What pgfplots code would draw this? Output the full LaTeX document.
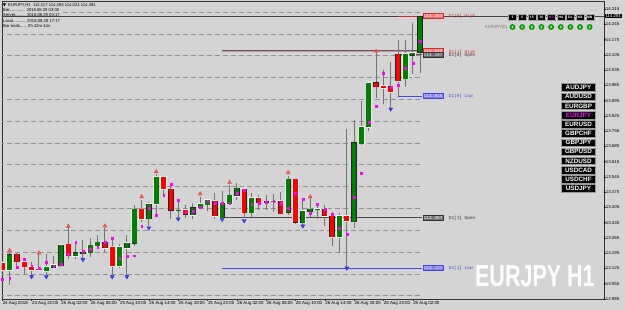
\documentclass[border=0pt]{standalone}
\usepackage{fontspec}
\setmainfont{Liberation Sans}
\newfontfamily\monofont{Liberation Mono}
\usepackage{pgfplots}
\usepackage{pgfplotstable}
\pgfplotsset{compat=1.18}
\definecolor{bg}{RGB}{212,212,212}
\definecolor{cgreen}{RGB}{0,128,0}
\definecolor{cred}{RGB}{255,0,0}
\definecolor{wick}{RGB}{115,115,115}
\definecolor{lvl}{RGB}{145,145,145}
\definecolor{magdot}{RGB}{255,0,255}
\definecolor{dblue}{RGB}{70,70,235}
\definecolor{dred}{RGB}{205,45,45}
\definecolor{teal1}{RGB}{100,195,205}
\definecolor{tfgreen}{RGB}{0,150,0}
\definecolor{halo}{RGB}{240,240,240}

\pgfplotstableread{
i o h l c
1 113.118 113.198 113.052 113.190
6 113.114 113.192 113.095 113.133
7 113.131 113.185 113.127 113.141
8 113.139 113.235 113.134 113.233
10 113.183 113.253 113.169 113.197
11 113.195 113.256 113.166 113.198
12 113.198 113.265 113.178 113.231
13 113.229 113.279 113.217 113.245
16 113.138 113.237 113.127 113.225
17 113.218 113.279 113.093 113.241
18 113.241 113.416 113.227 113.396
20 113.354 113.432 113.320 113.421
21 113.422 113.558 113.370 113.546
24 113.392 113.437 113.359 113.393
26 113.370 113.425 113.354 113.405
27 113.405 113.455 113.396 113.421
28 113.419 113.445 113.391 113.439
30 113.357 113.480 113.352 113.427
31 113.423 113.510 113.416 113.462
32 113.459 113.516 113.441 113.493
34 113.382 113.471 113.363 113.448
36 113.431 113.462 113.393 113.432
37 113.434 113.469 113.385 113.435
39 113.383 113.552 113.370 113.535
41 113.336 113.444 113.327 113.389
42 113.386 113.451 113.363 113.397
43 113.397 113.421 113.351 113.398
46 113.271 113.378 113.195 113.366
48 113.340 113.806 113.311 113.702
49 113.699 113.893 113.691 113.775
50 113.775 113.982 113.758 113.977
55 113.997 114.173 113.956 114.109
56 114.103 114.252 114.017 114.115
57 114.117 114.283 114.021 114.281
}\upc

\pgfplotstableread{
i o h l c
0 113.150 113.159 113.109 113.118
2 113.190 113.196 113.132 113.156
3 113.155 113.173 113.102 113.133
4 113.132 113.153 113.086 113.118
5 113.125 113.192 113.114 113.120
9 113.235 113.315 113.169 113.184
14 113.247 113.311 113.201 113.220
15 113.224 113.271 113.095 113.138
19 113.396 113.441 113.338 113.353
22 113.545 113.552 113.464 113.490
23 113.489 113.513 113.352 113.393
25 113.393 113.419 113.357 113.374
29 113.436 113.471 113.355 113.366
33 113.490 113.492 113.357 113.383
35 113.448 113.462 113.396 113.428
38 113.436 113.476 113.375 113.378
40 113.535 113.538 113.331 113.337
44 113.398 113.419 113.320 113.367
45 113.366 113.385 113.228 113.271
47 113.366 113.765 113.127 113.343
51 113.977 114.122 113.910 113.959
52 113.962 114.035 113.879 113.953
53 113.959 114.073 113.861 113.936
54 114.107 114.173 113.915 113.986
}\dnc

\pgfplotsset{
  ebar/.style 2 args={only marks, mark=*, mark size=0pt, mark options={draw=none, fill=none}, forget plot,
    error bars/.cd, y dir=both, y explicit, error mark=none,
    error bar style={draw=#1, line width=#2}},
  lvlst/.style={lvl, line width=0.8pt, dash pattern=on 5pt off 3pt, forget plot},
}
\tikzset{
  pbox/.style={anchor=west, font=\monofont\fontsize{4.5}{5}\selectfont, inner xsep=0.8pt, inner ysep=0.4pt, minimum height=5pt, text=white, line width=0.5pt},
  d1t/.style={anchor=west, font=\monofont\fontsize{4.4}{5}\selectfont, inner sep=0pt},
  info/.style={anchor=west, font=\fontsize{4.2}{5}\selectfont, inner sep=0pt, text=black},
}

\begin{document}
\begin{tikzpicture}
\useasboundingbox (0,0) rectangle (625pt,310pt);
\fill[bg] (0,0) rectangle (625pt,310pt);
\begin{axis}[
  at={(2pt,11pt)}, anchor=south west,
  scale only axis, width=602pt, height=298pt,
  xmin=-0.041, xmax=82.09, ymin=112.985, ymax=114.3517,
  axis line style={draw=black!80, line width=0.6pt},
  xtick={0,4,8,12,16,20,24,28,32,36,40,44,48,52,56},
  xticklabels={24 Aug 2018,24 Aug 22:00,25 Aug 02:00,25 Aug 06:00,25 Aug 10:00,25 Aug 14:00,25 Aug 18:00,25 Aug 22:00,26 Aug 02:00,26 Aug 06:00,26 Aug 10:00,26 Aug 14:00,26 Aug 18:00,26 Aug 22:00,29 Aug 02:00},
  ytick={112.985,113.055,113.125,113.195,113.265,113.335,113.405,113.475,113.545,113.615,113.685,113.755,113.825,113.895,113.965,114.035,114.105,114.175,114.245,114.315},
  yticklabels={112.985,113.055,113.125,113.195,113.265,113.335,113.405,113.475,113.545,113.615,113.685,113.755,113.825,113.895,113.965,114.035,114.105,114.175,114.245,114.315},
  xtick pos=left, ytick pos=right, yticklabel pos=right,
  tick align=outside, major tick length=2pt,
  tick style={draw=black!80, line width=0.5pt},
  xticklabel style={anchor=north west, inner sep=0pt, xshift=0.3pt, yshift=-0.5pt},
  yticklabel style={anchor=west, inner sep=0pt, xshift=-2.5pt},
  every tick label/.append style={font=\fontsize{4.4}{5}\selectfont, text=black},
]
% round-number levels
\addplot[lvlst] coordinates {(8.3,114.3) (57.3,114.3)};
\pgfplotsinvokeforeach{113.0,113.1,113.2,113.3,113.4,113.5,113.6,113.7,113.8,113.9,114.0,114.1,114.2}{
  \addplot[lvlst] coordinates {(-0.5,#1) (57.3,#1)};
}
% bid line
\addplot[black!75, line width=0.5pt, forget plot] coordinates {(-0.5,114.281) (83,114.281)};
% D1 levels
\addplot[dred, line width=0.8pt] coordinates {(54,114.283) (57.3,114.283)};
\addplot[teal1, line width=0.8pt] coordinates {(30,114.119) (57.3,114.119)};
\addplot[dred, line width=0.8pt] coordinates {(30,114.124) (57.3,114.124)};
\addplot[black!70, line width=0.8pt] coordinates {(54,114.107) (57.3,114.107)};
\addplot[dblue, line width=0.8pt] coordinates {(54,113.915) (57.3,113.915)};
\addplot[black!70, line width=0.8pt] coordinates {(30,113.357) (57.3,113.357)};
\addplot[dblue, line width=0.8pt] coordinates {(30,113.127) (57.3,113.127)};
% wicks
\addplot[ebar={wick}{1pt}] table[x=i, y expr={(\thisrow{h}+\thisrow{l})/2}, y error expr={(\thisrow{h}-\thisrow{l})/2}] {\upc};
\addplot[ebar={wick}{1pt}] table[x=i, y expr={(\thisrow{h}+\thisrow{l})/2}, y error expr={(\thisrow{h}-\thisrow{l})/2}] {\dnc};
% halos
\addplot[ebar={halo}{6.4pt}] table[x=i, y expr={(\thisrow{o}+\thisrow{c})/2}, y error expr={abs(\thisrow{c}-\thisrow{o})/2+0.0035}] {\upc};
\addplot[ebar={halo}{6.4pt}] table[x=i, y expr={(\thisrow{o}+\thisrow{c})/2}, y error expr={abs(\thisrow{c}-\thisrow{o})/2+0.0035}] {\dnc};
% body outlines
\addplot[ebar={black!85}{5.3pt}] table[x=i, y expr={(\thisrow{o}+\thisrow{c})/2}, y error expr={abs(\thisrow{c}-\thisrow{o})/2+0.0013}] {\upc};
\addplot[ebar={black!85}{5.3pt}] table[x=i, y expr={(\thisrow{o}+\thisrow{c})/2}, y error expr={abs(\thisrow{c}-\thisrow{o})/2+0.0013}] {\dnc};
% body fills
\addplot[ebar={cgreen}{4.6pt}] table[x=i, y expr={(\thisrow{o}+\thisrow{c})/2}, y error expr={abs(\thisrow{c}-\thisrow{o})/2}] {\upc};
\addplot[ebar={cred}{4.6pt}] table[x=i, y expr={(\thisrow{o}+\thisrow{c})/2}, y error expr={abs(\thisrow{c}-\thisrow{o})/2}] {\dnc};
% fractal arrows
\addplot[only marks, mark=triangle*, mark size=2.3pt, mark options={fill={rgb,255:red,255;green,90;blue,90}, draw={rgb,255:red,230;green,60;blue,60}, line width=0.3pt}]
  coordinates {(1,113.207) (5,113.196) (9,113.318) (14,113.320) (19,113.454) (21,113.569) (27,113.467) (31,113.519) (39,113.564) (42,113.454) (51,114.122)};
\addplot[only marks, mark=triangle*, mark size=2.3pt, mark options={rotate=180, fill={rgb,255:red,60;green,60;blue,255}, draw={rgb,255:red,40;green,40;blue,230}, line width=0.3pt}]
  coordinates {(4,113.087) (6,113.087) (11,113.166) (15,113.087) (17,113.087) (20,113.311) (24,113.352) (30,113.350) (33,113.344) (41,113.320) (47,113.127) (53,113.856)};
% magenta points
\addplot[color=magdot, only marks, mark=square*, mark size=0.9pt, mark options={fill=magdot, draw=magdot, line width=0.2pt}]
  coordinates {(0,113.077) (1,113.081) (2,113.132) (3,113.169) (4,113.136) (5,113.127) (6,113.155) (7,113.136) (8,113.146) (9,113.192) (10,113.247) (11,113.205) (12,113.214) (13,113.224) (14,113.247) (15,113.265) (16,113.173) (17,113.182) (18,113.184) (19,113.320) (20,113.402) (21,113.370) (22,113.462) (23,113.513) (24,113.439) (25,113.384) (26,113.389) (27,113.407) (28,113.435) (29,113.425) (30,113.425) (31,113.425) (32,113.471) (33,113.485) (34,113.421) (35,113.425) (36,113.430) (37,113.435) (38,113.425) (39,113.402) (40,113.471) (41,113.444) (42,113.380) (43,113.421) (44,113.398) (45,113.375) (46,113.311) (47,113.283) (48,113.453) (49,113.563) (50,113.797) (51,113.870) (52,114.022) (53,113.957) (54,113.967) (55,114.045) (56,114.067) (57,114.168)};
% D1 labels
\node[pbox, fill=red!55!white, draw=dred] at (axis cs:57.35,114.283) {114.283};
\node[d1t, text=dred] at (axis cs:60.9,114.281) {D1[0] High};
\node[pbox, fill=red!55!white, draw=dred] at (axis cs:57.35,114.124) {114.122};
\node[d1t, text=dred] at (axis cs:60.9,114.118) {D1[1] High};
\node[pbox, fill=black!60, draw=black!80] at (axis cs:57.35,114.104) {114.107};
\node[d1t, text=black!80] at (axis cs:60.9,114.101) {D1[0] Open};
\node[pbox, fill=dblue!70!white, draw=dblue] at (axis cs:57.35,113.915) {113.915};
\node[d1t, text=dblue] at (axis cs:60.9,113.914) {D1[0] Low};
\node[pbox, fill=black!55, draw=black!80] at (axis cs:57.35,113.357) {113.357};
\node[d1t, text=black!80] at (axis cs:60.9,113.356) {D1[1] Open};
\node[pbox, fill=dblue!70!white, draw=dblue] at (axis cs:57.35,113.127) {113.127};
\node[d1t, text=dblue] at (axis cs:60.9,113.126) {D1[1] Low};
\end{axis}
% current price box on price scale
\node[fill=black, text=white, font=\fontsize{4.4}{5}\selectfont, inner xsep=1pt, inner ysep=0.7pt, anchor=west] at (604.3pt,294pt) {114.281};
% info panel
\fill[black] (2.8pt,306.6pt) -- (6pt,306.6pt) -- (4.4pt,303.6pt) -- cycle;
\node[info] at (8pt,305pt) {EURJPY,H1\ \ 114.117 114.283 114.021 114.281};
\node[info] at (3pt,300pt) {Bar.............\ \,2018.08.29 03:00};
\node[info] at (3pt,294.5pt) {Server.........\ 2018.08.29 03:17};
\node[info] at (3pt,289pt) {Local...........\ 2018.08.28 17:17};
\node[info] at (3pt,284pt) {Bar ends......\ 0h 42m 44s};
% timeframe boxes and status circles
\foreach \lab/\col [count=\k from 0] in {1/white,5/white,15/white,30/white,H1/magdot,H4/white,D1/white,W1/white,MN/white}{
  \pgfmathsetmacro\xx{512.5+9.65*\k}
  \node[fill=black, draw=gray!70, line width=0.3pt, minimum width=8pt, minimum height=6pt, inner sep=0pt, text=\col, font=\fontsize{3.4}{4}\selectfont\bfseries] at (\xx pt,293pt) {\lab};
  \fill[tfgreen] (\xx pt,283pt) circle (2.9pt);
  \draw[green!35!white, line width=0.45pt] (\xx pt,283pt) ellipse (0.8pt and 1.2pt);
}
\node[anchor=east, font=\fontsize{4.3}{5}\selectfont, text=black!55, inner sep=0pt] at (507pt,283pt) {EURJPY[0]};
% symbol buttons
\foreach \sym/\col [count=\k from 0] in {AUDJPY/white,AUDUSD/white,EURGBP/white,EURJPY/magdot,EURUSD/white,GBPCHF/white,GBPJPY/white,GBPUSD/white,NZDUSD/white,USDCAD/white,USDCHF/white,USDJPY/white}{
  \pgfmathsetmacro\yy{310-87.5-9.17*\k}
  \node[fill=black, draw=gray!80, line width=0.4pt, minimum width=34pt, minimum height=7.6pt, inner sep=0pt, text=\col, font=\fontsize{6.3}{7}\selectfont\bfseries] at (578.5pt,\yy pt) {\sym};
}
% watermark
\node[anchor=base west, text=white, font=\fontsize{30.3}{30}\selectfont\bfseries, xscale=0.71, inner sep=0pt] at (475pt,23.3pt) {EURJPY H1};
\end{tikzpicture}
\end{document}
